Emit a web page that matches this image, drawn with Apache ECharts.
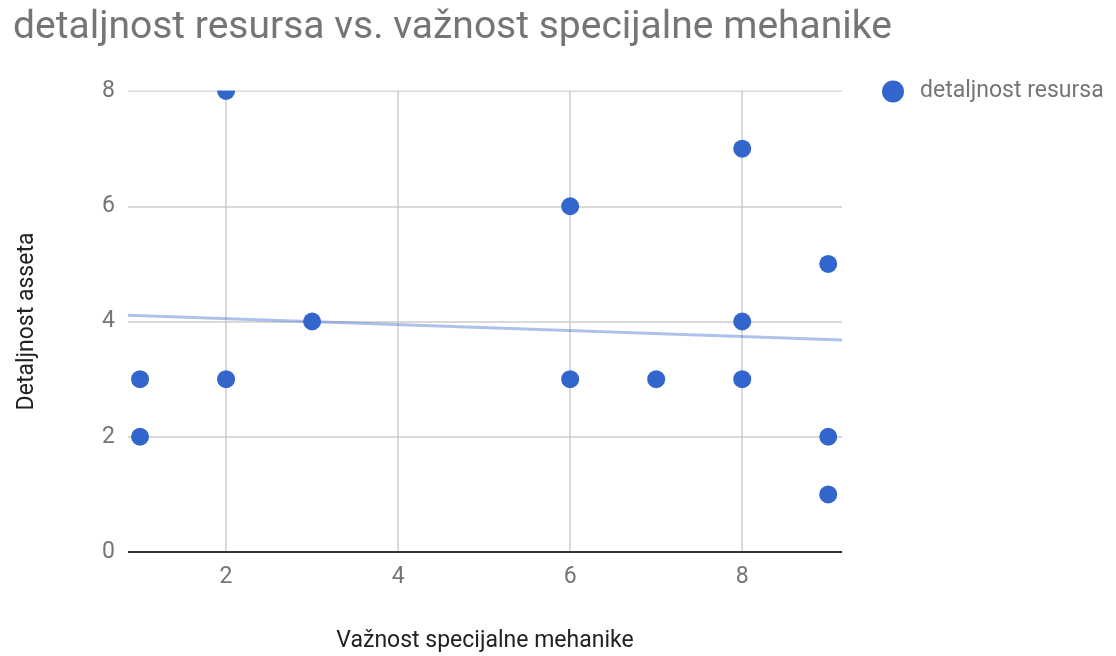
<!DOCTYPE html>
<html style="height: 100%">
<head>
    <meta charset="utf-8">
    <title>scatter</title>
    <script type="text/javascript" src="https://cdn.jsdelivr.net/npm/echarts@6/dist/echarts.min.js"></script>
    <style>
        body { margin: 0; height: 100%; background: #fff; }
        #main { width: 1116px; height: 656px; }
    </style>
</head>
<body>
    <div id="main"></div>
    <script type="text/javascript">
        // vrijednosti ocitane s grafa
        var xVals = [1, 1, 2, 2, 3, 6, 6, 7, 8, 8, 8, 9, 9, 9];
        var yVals = [3, 2, 8, 3, 4, 6, 3, 3, 7, 4, 3, 5, 2, 1];
        var xTicks = [2, 4, 6, 8];
        var xRange = [0.86, 9.16];
        var trendY = [4.11, 3.68]; // trend linija na rubovima

        var points = xVals.map(function (x, i) { return [x, yVals[i]]; });
        var trend = [[xRange[0], trendY[0]], [xRange[1], trendY[1]]];

        var chart = echarts.init(document.getElementById('main'));
        var font = 'Roboto, sans-serif';
        var gridBox = { left: 128, right: 274, top: 91, bottom: 104, outerBoundsMode: 'none' };

        chart.setOption({
            animation: false,
            title: {
                text: 'detaljnost resursa vs. važnost specijalne mehanike',
                left: 8, top: 4,
                textStyle: { fontFamily: font, fontSize: 39, fontWeight: 'normal', color: '#757575' }
            },
            legend: {
                data: [{ name: 'detaljnost resursa', icon: 'circle' }],
                left: 877, top: 75, orient: 'vertical',
                itemWidth: 22, itemHeight: 22, itemGap: 10,
                textStyle: { fontFamily: font, fontSize: 23, color: '#757575', padding: [0, 0, 0, 11] }
            },
            grid: gridBox,
            // maska iznad plota da se tocka na 8 odreze kao u originalu
            graphic: [{
                type: 'rect', z: 100, silent: true,
                shape: { x: gridBox.left - 2, y: gridBox.top - 20, width: 1116 - gridBox.left - gridBox.right + 4, height: 19.5 },
                style: { fill: '#ffffff' }
            }],
            xAxis: {
                type: 'value', min: xRange[0], max: xRange[1],
                name: 'Važnost specijalne mehanike', nameLocation: 'middle', nameGap: 78,
                nameTextStyle: { fontFamily: font, fontSize: 23, color: '#222' },
                axisLine: { show: false },
                axisTick: { show: false, customValues: xTicks },
                axisLabel: { customValues: xTicks, fontFamily: font, fontSize: 23, color: '#757575', margin: 14 },
                splitLine: { show: true, lineStyle: { color: '#cccccc', width: 1.5 } }
            },
            yAxis: {
                type: 'value', min: 0, max: 8, interval: 2,
                name: 'Detaljnost asseta', nameLocation: 'middle', nameGap: 89,
                nameTextStyle: { fontFamily: font, fontSize: 23, color: '#222' },
                axisLine: { show: false },
                axisTick: { show: false },
                axisLabel: { fontFamily: font, fontSize: 23, color: '#757575', margin: 13 },
                splitLine: { lineStyle: { color: '#cccccc', width: 1.5 } }
            },
            series: [{
                name: 'trend', type: 'line', data: trend, showSymbol: false, silent: true,
                lineStyle: { color: '#3366cc', opacity: 0.4, width: 3 },
                z: 2
            }, {
                name: 'detaljnost resursa', type: 'scatter', data: points, symbolSize: 18,
                itemStyle: { color: '#3366cc', opacity: 1 },
                clip: true, z: 3,
                markLine: {
                    silent: true, symbol: 'none', label: { show: false },
                    lineStyle: { color: '#333333', width: 2, type: 'solid' },
                    data: [{ yAxis: 0 }]
                }
            }]
        });
    </script>
</body>
</html>
